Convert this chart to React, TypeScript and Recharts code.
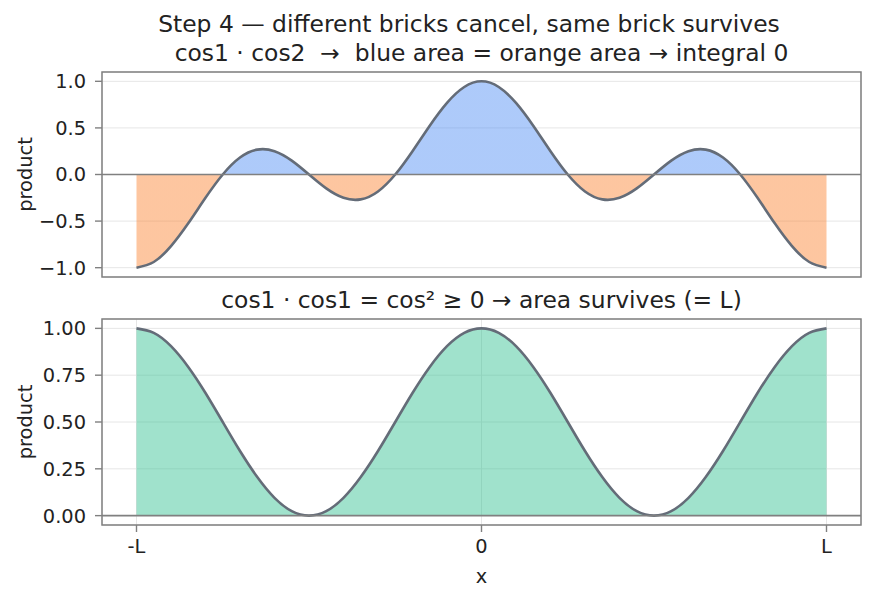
import { AreaChart, Area, XAxis, YAxis, CartesianGrid, ReferenceLine, ReferenceArea } from "recharts";

// sample grid along x (in units of L)
const xs = [
  -1, -0.95, -0.9, -0.85, -0.8, -0.75, -0.7, -0.65, -0.6, -0.55, -0.5,
  -0.45, -0.4, -0.35, -0.3, -0.25, -0.2, -0.15, -0.1, -0.05, 0,
  0.05, 0.1, 0.15, 0.2, 0.25, 0.3, 0.35, 0.4, 0.45, 0.5,
  0.55, 0.6, 0.65, 0.7, 0.75, 0.8, 0.85, 0.9, 0.95, 1,
];

// cos1 · cos2
const crossValues = [
  -1, -0.939, -0.769, -0.524, -0.25, 0, 0.182, 0.267, 0.25, 0.149, 0,
  -0.149, -0.25, -0.267, -0.182, 0, 0.25, 0.524, 0.769, 0.939, 1,
  0.939, 0.769, 0.524, 0.25, 0, -0.182, -0.267, -0.25, -0.149, 0,
  0.149, 0.25, 0.267, 0.182, 0, -0.25, -0.524, -0.769, -0.939, -1,
];

// cos1 · cos1
const squareValues = [
  1, 0.976, 0.905, 0.794, 0.655, 0.5, 0.345, 0.206, 0.095, 0.024, 0,
  0.024, 0.095, 0.206, 0.345, 0.5, 0.655, 0.794, 0.905, 0.976, 1,
  0.976, 0.905, 0.794, 0.655, 0.5, 0.345, 0.206, 0.095, 0.024, 0,
  0.024, 0.095, 0.206, 0.345, 0.5, 0.655, 0.794, 0.905, 0.976, 1,
];

const xTicks = [-1, 0, 1];
const xTickLabels = ["-L", "0", "L"];
const topTicks = [-1, -0.5, 0, 0.5, 1];
const topTickLabels = ["\u22121.0", "\u22120.5", "0.0", "0.5", "1.0"];
const bottomTicks = [0, 0.25, 0.5, 0.75, 1];
const bottomTickLabels = ["0.00", "0.25", "0.50", "0.75", "1.00"];

const suptitle = "Step 4 \u2014 different bricks cancel, same brick survives";
const topTitle = "cos1 \u00b7 cos2  \u2192  blue area = orange area \u2192 integral 0";
const bottomTitle = "cos1 \u00b7 cos1 = cos\u00b2 \u2265 0 \u2192 area survives (= L)";

const crossData = xs.map((x, i) => ({ x, y: crossValues[i] }));
const squareData = xs.map((x, i) => ({ x, y: squareValues[i] }));

const FONT = "DejaVu Sans, sans-serif";
const INK = "#222222";
const SPINE = "#808080";
const GRID = "#e6e6e6";
const CURVE = "#646c78";
const TICK_FONT = 19.4;
const TITLE_FONT = 23.4;

const labelFor = (ticks: number[], labels: string[]) => (v: number) => {
  const i = ticks.findIndex((t) => Math.abs(t - v) < 1e-9);
  return i >= 0 ? labels[i] : "";
};

export default function App() {
  const tickStyle = { fill: INK, fontSize: TICK_FONT, fontFamily: FONT };

  return (
    <div style={{ position: "absolute", left: 0, top: 0, width: 875, height: 598, background: "#fff" }}>
      {/* upper panel: cos1·cos2 split into positive / negative fill */}
      <div style={{ position: "absolute", left: 0, top: 0 }}>
        <AreaChart
          width={875}
          height={300}
          data={crossData}
          margin={{ top: 72, right: 14, bottom: 0, left: 0 }}
          style={{ fontFamily: FONT }}
        >
          <defs>
            <linearGradient id="signSplit" x1="0" y1="0" x2="0" y2="1">
              <stop offset="0" stopColor="#4a8af4" stopOpacity={0.45} />
              <stop offset="0.5" stopColor="#4a8af4" stopOpacity={0.45} />
              <stop offset="0.5" stopColor="#fb802c" stopOpacity={0.45} />
              <stop offset="1" stopColor="#fb802c" stopOpacity={0.45} />
            </linearGradient>
          </defs>
          <CartesianGrid stroke={GRID} strokeWidth={1} />
          <XAxis
            dataKey="x"
            type="number"
            domain={[-1.1, 1.1]}
            ticks={xTicks}
            allowDataOverflow
            height={23}
            axisLine={false}
            tickLine={{ stroke: SPINE, strokeWidth: 1.4 }}
            tickSize={7}
            tick={false}
          />
          <YAxis
            type="number"
            domain={[-1.1, 1.1]}
            ticks={topTicks}
            allowDataOverflow
            width={102}
            axisLine={false}
            tickLine={{ stroke: SPINE, strokeWidth: 1.4 }}
            tickSize={7}
            tickMargin={9}
            tick={tickStyle}
            tickFormatter={labelFor(topTicks, topTickLabels)}
          />
          <Area
            type="natural"
            dataKey="y"
            baseValue={0}
            fill="url(#signSplit)"
            fillOpacity={1}
            stroke="none"
            isAnimationActive={false}
          />
          <ReferenceLine y={0} stroke={SPINE} strokeWidth={1.6} />
          <Area
            type="natural"
            dataKey="y"
            fill="none"
            stroke={CURVE}
            strokeWidth={2.6}
            isAnimationActive={false}
          />
          <ReferenceArea x1={-1.1} x2={1.1} y1={-1.1} y2={1.1} fill="none" stroke={SPINE} strokeWidth={1.5} />
        </AreaChart>
      </div>

      {/* lower panel: cos1·cos1 */}
      <div style={{ position: "absolute", left: 0, top: 300 }}>
        <AreaChart
          width={875}
          height={298}
          data={squareData}
          margin={{ top: 19, right: 14, bottom: 23, left: 0 }}
          style={{ fontFamily: FONT }}
        >
          <CartesianGrid stroke={GRID} strokeWidth={1} />
          <XAxis
            dataKey="x"
            type="number"
            domain={[-1.1, 1.1]}
            ticks={xTicks}
            allowDataOverflow
            height={50}
            axisLine={false}
            tickLine={{ stroke: SPINE, strokeWidth: 1.4 }}
            tickSize={7}
            tickMargin={7}
            tick={tickStyle}
            tickFormatter={labelFor(xTicks, xTickLabels)}
          />
          <YAxis
            type="number"
            domain={[-0.05, 1.05]}
            ticks={bottomTicks}
            allowDataOverflow
            width={102}
            axisLine={false}
            tickLine={{ stroke: SPINE, strokeWidth: 1.4 }}
            tickSize={7}
            tickMargin={9}
            tick={tickStyle}
            tickFormatter={labelFor(bottomTicks, bottomTickLabels)}
          />
          <Area
            type="natural"
            dataKey="y"
            baseValue={0}
            fill="#2cbf8e"
            fillOpacity={0.45}
            stroke="none"
            isAnimationActive={false}
          />
          <ReferenceLine y={0} stroke={SPINE} strokeWidth={1.6} />
          <Area
            type="natural"
            dataKey="y"
            fill="none"
            stroke={CURVE}
            strokeWidth={2.6}
            isAnimationActive={false}
          />
          <ReferenceArea x1={-1.1} x2={1.1} y1={-0.05} y2={1.05} fill="none" stroke={SPINE} strokeWidth={1.5} />
        </AreaChart>
      </div>

      {/* titles and axis labels */}
      <svg
        width={875}
        height={598}
        style={{ position: "absolute", left: 0, top: 0, pointerEvents: "none", fontFamily: FONT }}
      >
        <text x={469} y={32} textAnchor="middle" fontSize={TITLE_FONT} fill={INK}>
          {suptitle}
        </text>
        <text x={481.5} y={61} textAnchor="middle" fontSize={TITLE_FONT} fill={INK} style={{ whiteSpace: "pre" }}>
          {topTitle}
        </text>
        <text x={481.5} y={308} textAnchor="middle" fontSize={TITLE_FONT} fill={INK}>
          {bottomTitle}
        </text>
        <text x={32} y={174.5} textAnchor="middle" fontSize={TICK_FONT} fill={INK} transform="rotate(-90 32 174.5)">
          product
        </text>
        <text x={32} y={422} textAnchor="middle" fontSize={TICK_FONT} fill={INK} transform="rotate(-90 32 422)">
          product
        </text>
        <text x={481.5} y={583} textAnchor="middle" fontSize={TICK_FONT} fill={INK}>
          x
        </text>
      </svg>
    </div>
  );
}
